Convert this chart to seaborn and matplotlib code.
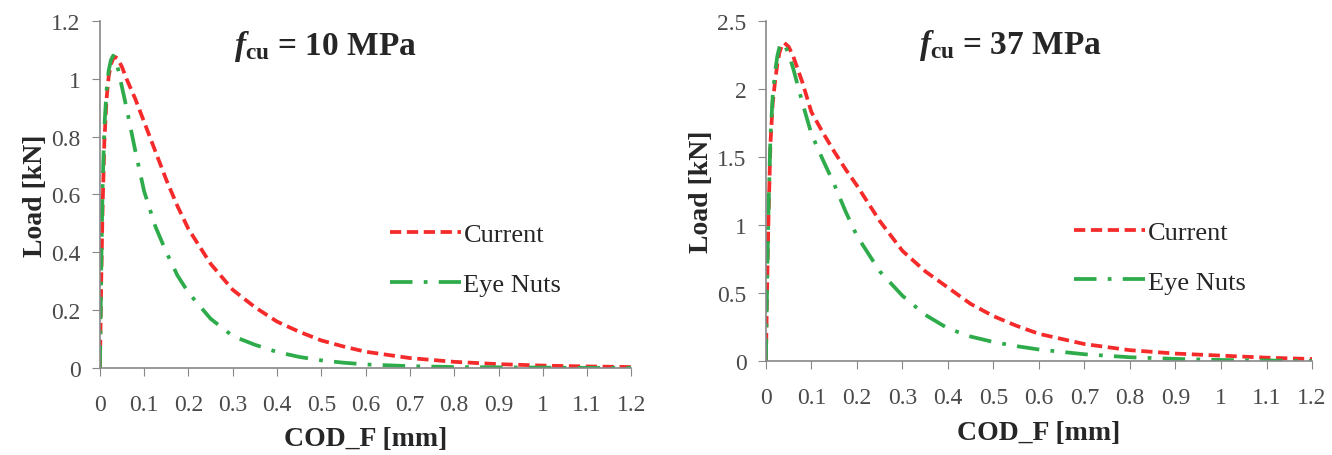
import numpy as np
import pandas as pd
import matplotlib
matplotlib.use("Agg")
import matplotlib.pyplot as plt
import seaborn as sns

# COD_F [mm] sample points
cod = [0.0, 0.003, 0.006, 0.01, 0.015, 0.02, 0.025, 0.03, 0.035, 0.04, 0.05, 0.06,
       0.08, 0.1, 0.125, 0.15, 0.175, 0.2, 0.25, 0.3, 0.35, 0.4, 0.45, 0.5, 0.55,
       0.6, 0.7, 0.8, 0.9, 1.0, 1.1, 1.2]

# f_cu = 10 MPa, load [kN]
current_10 = [0.0, 0.3, 0.55, 0.78, 0.93, 1.01, 1.05, 1.07, 1.075, 1.07, 1.04, 1.0,
              0.93, 0.85, 0.75, 0.65, 0.56, 0.48, 0.36, 0.27, 0.21, 0.16, 0.125, 0.095,
              0.074, 0.056, 0.034, 0.021, 0.013, 0.008, 0.005, 0.003]
eyenuts_10 = [0.0, 0.35, 0.62, 0.83, 0.96, 1.03, 1.065, 1.08, 1.07, 1.04, 0.97, 0.9,
              0.75, 0.61, 0.49, 0.4, 0.32, 0.26, 0.17, 0.11, 0.08, 0.055, 0.038, 0.026,
              0.018, 0.012, 0.006, 0.003, 0.002, 0.001, 0.0, 0.0]

# f_cu = 37 MPa, load [kN]
current_37 = [0.0, 0.6, 1.1, 1.6, 1.9, 2.05, 2.18, 2.27, 2.32, 2.34, 2.31, 2.24,
              2.05, 1.83, 1.68, 1.54, 1.41, 1.29, 1.03, 0.81, 0.66, 0.54, 0.42, 0.33,
              0.26, 0.2, 0.125, 0.08, 0.055, 0.04, 0.025, 0.015]
eyenuts_37 = [0.0, 0.65, 1.15, 1.65, 1.95, 2.12, 2.24, 2.31, 2.34, 2.33, 2.26, 2.15,
              1.9, 1.67, 1.48, 1.3, 1.1, 0.92, 0.66, 0.48, 0.34, 0.24, 0.18, 0.14,
              0.11, 0.085, 0.05, 0.028, 0.016, 0.008, 0.004, 0.0]

xtick_labels = ["0", "0.1", "0.2", "0.3", "0.4", "0.5", "0.6", "0.7",
                "0.8", "0.9", "1", "1.1", "1.2"]

sns.set_style("white")
plt.rcParams["font.family"] = ["Liberation Serif", "DejaVu Serif"]
plt.rcParams["mathtext.fontset"] = "custom"
plt.rcParams["mathtext.rm"] = "Liberation Serif:bold"
plt.rcParams["mathtext.it"] = "Liberation Serif:italic:bold"

red = "#f52a2a"
green = "#2eab4a"

fig = plt.figure(figsize=(13.32, 4.56), dpi=100)
ax1 = fig.add_axes([0.075, 0.191, 0.399, 0.761])
ax2 = fig.add_axes([0.575, 0.206, 0.410, 0.746])

panels = [
    (ax1, current_10, eyenuts_10, 1.2, 0.2, "10", 0.425, (0.545, 0.313)),
    (ax2, current_37, eyenuts_37, 2.5, 0.5, "37", 0.447, (0.564, 0.306)),
]

for ax, cur, eye, ymax, ystep, fcu, tx, legpos in panels:
    df = pd.DataFrame({"cod": cod * 2,
                       "load": cur + eye,
                       "series": ["Current"] * len(cod) + ["Eye Nuts"] * len(cod)})
    sns.lineplot(data=df[df.series == "Current"], x="cod", y="load", ax=ax,
                 color=red, lw=2.7, label="Current")
    sns.lineplot(data=df[df.series == "Eye Nuts"], x="cod", y="load", ax=ax,
                 color=green, lw=2.7, label="Eye Nuts")
    ax.lines[0].set_dashes([3, 1.5])
    ax.lines[1].set_dashes([6, 3, 1, 3])

    ax.set_xlim(0, 1.2)
    ax.set_ylim(0, ymax)
    ax.set_xticks(np.round(np.arange(0, 1.21, 0.1), 1))
    ax.set_xticklabels(xtick_labels)
    yt = np.round(np.arange(0, ymax + 1e-9, ystep), 1)
    ax.set_yticks(yt)
    ax.set_yticklabels([("%g" % v) for v in yt])
    ax.tick_params(axis="both", labelsize=17, labelcolor="#4a4a4a", length=6,
                   direction="out", left=True, bottom=True, color="#888888")
    ax.tick_params(axis="x", pad=13)
    ax.tick_params(axis="y", pad=8)
    for s in ["top", "right"]:
        ax.spines[s].set_visible(False)
    for s in ["left", "bottom"]:
        ax.spines[s].set_color("#888888")
        ax.spines[s].set_linewidth(1.2)

    ax.set_xlabel("COD_F [mm]", fontsize=20, fontweight="bold", labelpad=8)
    ax.set_ylabel("Load [kN]", fontsize=20, fontweight="bold", labelpad=2)
    ax.text(tx, 0.93, r"$f_{\mathrm{cu}}$ = " + fcu + " MPa", transform=ax.transAxes,
            ha="center", va="center", fontsize=24, fontweight="bold")

    ax.legend(loc="center left", bbox_to_anchor=legpos, frameon=False, fontsize=19,
              handlelength=2.7, handletextpad=0.1, labelspacing=1.0,
              borderpad=0, borderaxespad=0)

fig.savefig("out.png", dpi=100)
